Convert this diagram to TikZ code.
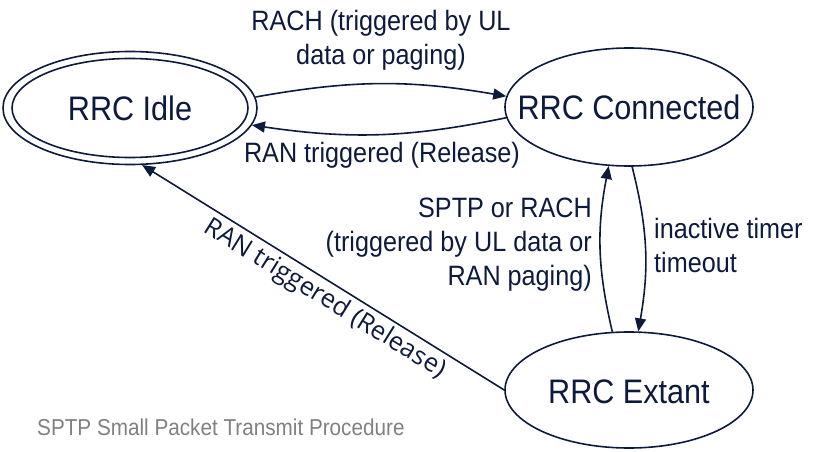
\documentclass[tikz,border=0pt]{standalone}
\usepackage{fontspec}
\setmainfont[FakeStretch=0.9]{Liberation Sans}
\newfontfamily\opensans{Open Sans}
\usetikzlibrary{shapes.geometric,arrows.meta}
\definecolor{navy}{RGB}{12,26,62}
\definecolor{notegray}{RGB}{128,128,128}
\begin{document}
\begin{tikzpicture}[x=1pt,y=1pt,
  st/.style={ellipse, draw=navy, line width=1.6pt, inner sep=0pt},
  sttext/.style={text=navy, inner sep=0pt, font=\fontsize{34}{40}\selectfont},
  arr/.style={draw=navy, line width=1.6pt, -{Triangle[length=13pt,width=11pt]}},
  lbl/.style={text=navy, inner sep=0pt, font=\fontsize{28}{34}\selectfont},
  note/.style={text=notegray, inner sep=0pt, font=\fontsize{23}{28}\selectfont}]
\useasboundingbox (0,0) rectangle (819,-452);
\node[st, minimum width=254pt, minimum height=113pt] (idle) at (130,-108) {};
\node[st, minimum width=236pt, minimum height=99pt] (idlein) at (idle.center) {};
\node[sttext] (idletxt) at (idle.center) {RRC Idle};
\node[st, minimum width=248pt, minimum height=118pt] (conn) at (629,-107) {};
\node[sttext] (conntxt) at (conn.center) {RRC Connected};
\node[st, minimum width=248pt, minimum height=116pt] (ext) at (629,-390) {};
\node[sttext] (exttxt) at ([yshift=-2pt]ext.center) {RRC Extant};

\draw[arr] (idle.5) to[bend left=10] (conn.175);
\draw[arr] (conn.185) to[bend left=10] (idle.352);
\draw[arr] (ext.106) to[bend left=12] (conn.251);
\draw[arr] (conn.273) to[bend left=12] (ext.81);
\draw[arr] (ext.180) -- node[sloped, below=2pt, pos=0.47, text=navy, inner sep=2pt,
   font=\opensans\fontsize{25.5}{30}\selectfont] (lrel2) {RAN triggered (Release)} (idle.282);

\node[lbl, align=center] (lrach) at (381,-40) {RACH (triggered by UL\\data or paging)};
\node[lbl] (lrel) at (382,-155) {RAN triggered (Release)};
\node[lbl, align=right, anchor=east] (lsptp) at (592,-245) {SPTP or RACH\\(triggered by UL data or\\RAN paging)};
\node[lbl, align=left, anchor=west] (linact) at (654,-245) {inactive timer\\timeout};
\node[note, anchor=west] (fn) at (37,-427) {SPTP Small Packet Transmit Procedure};
\end{tikzpicture}
\end{document}
